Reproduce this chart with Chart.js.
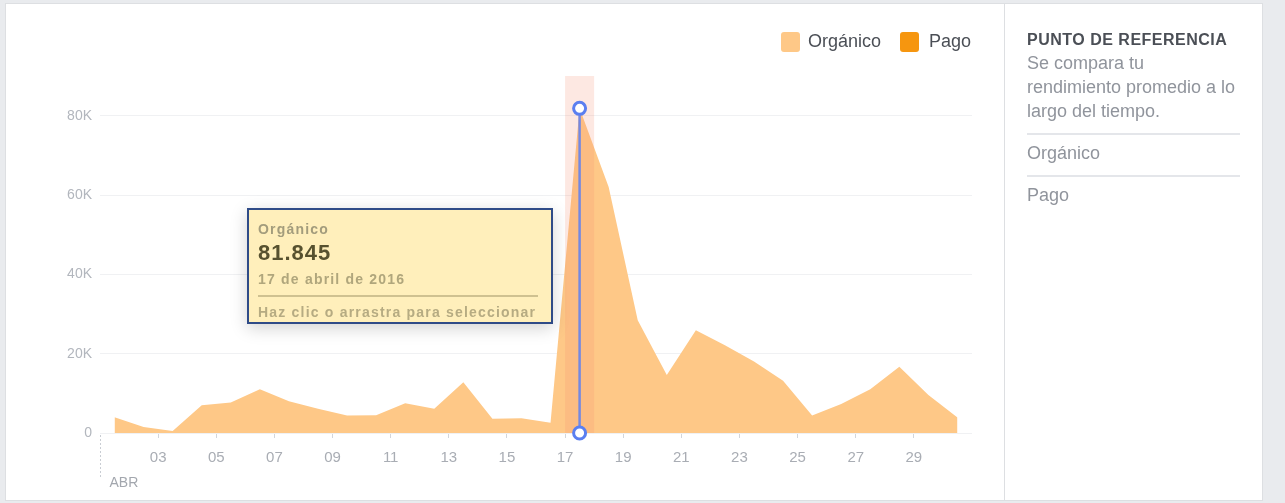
<!DOCTYPE html>
<html lang="es">
<head>
<meta charset="utf-8">
<title>Alcance de la página</title>
<script src="https://cdn.jsdelivr.net/npm/chart.js@4.4.1/dist/chart.umd.min.js"></script>
<style>
  html, body { margin: 0; padding: 0; }
  body {
    width: 1285px; height: 503px; overflow: hidden; position: relative;
    background: #e9ebee;
    font-family: Helvetica, Arial, "Liberation Sans", sans-serif;
  }
  .card { position: absolute; left: 5px; top: 3px; width: 1256px; height: 496px; background: #fff; border: 1px solid #dddfe2; }
  .divider { position: absolute; left: 1004px; top: 4px; width: 1px; height: 496px; background: #dddfe2; }
  #chart { position: absolute; left: 0; top: 0; }

  .legend-sw { position: absolute; top: 32px; width: 19px; height: 20px; border-radius: 3px; }
  .legend-txt { position: absolute; top: 31px; font-size: 18px; line-height: 20px; color: #4b4f56; }

  .side { position: absolute; left: 1027px; color: #90949c; }
  .side-title { top: 30px; font-size: 16px; line-height: 20px; font-weight: bold; color: #4b4f56; letter-spacing: 0.5px; }
  .side-desc { top: 51px; font-size: 18px; line-height: 24px; }
  .side-item { font-size: 18px; line-height: 20px; }
  .side-rule { position: absolute; left: 1027px; width: 213px; height: 2px; background: #e4e6ea; }

  .tip {
    position: absolute; left: 247px; top: 208px; width: 306px; height: 116px; box-sizing: border-box;
    background: #ffefbb; border: 2px solid #2f4b87;
    box-shadow: 0 4px 16px rgba(0, 0, 0, 0.18);
    font-weight: bold; font-size: 14px; letter-spacing: 1.2px;
  }
  .tip div { position: absolute; left: 9px; white-space: nowrap; line-height: 18px; }
  .tip .t-name { top: 10px; color: #a39c7c; }
  .tip .t-value { top: 30px; font-size: 22px; line-height: 26px; letter-spacing: 1px; color: #57512f; }
  .tip .t-date { top: 60px; color: #b0a67c; }
  .tip .t-rule { top: 85px; width: 280px; height: 2px; background: #cfc190; }
  .tip .t-help { top: 93px; color: #b6ab82; }
</style>
</head>
<body>
<div class="card"></div>
<div class="divider"></div>
<canvas id="chart" width="1004" height="503"></canvas>

<div class="legend-sw" id="swOrg" style="left:781px"></div>
<div class="legend-txt" style="left:808px">Orgánico</div>
<div class="legend-sw" id="swPago" style="left:900px"></div>
<div class="legend-txt" style="left:929px">Pago</div>

<div class="side side-title">PUNTO DE REFERENCIA</div>
<div class="side side-desc">Se compara tu<br>rendimiento promedio a lo<br>largo del tiempo.</div>
<div class="side-rule" style="top:133px"></div>
<div class="side side-item" style="top:143px">Orgánico</div>
<div class="side-rule" style="top:175px"></div>
<div class="side side-item" style="top:185px">Pago</div>

<div class="tip">
  <div class="t-name" id="tipName"></div>
  <div class="t-value" id="tipValue"></div>
  <div class="t-date" id="tipDate"></div>
  <div class="t-rule"></div>
  <div class="t-help">Haz clic o arrastra para seleccionar</div>
</div>

<script>
// dias de abril 2016
const days = [1, 2, 3, 4, 5, 6, 7, 8, 9, 10, 11, 12, 13, 14, 15, 16, 17, 18, 19, 20, 21, 22, 23, 24, 25, 26, 27, 28, 29, 30];
const organico = [4000, 1500, 500, 7000, 7700, 11000, 8000, 6100, 4400, 4500, 7500, 6100, 12800, 3600, 3700, 2600,
                  81845, 62000, 28400, 14600, 25900, 22100, 18000, 13200, 4400, 7300, 11000, 16700, 9600, 3900];
const pago = [0, 0, 0, 0, 0, 0, 0, 0, 0, 0, 0, 0, 0, 0, 0, 0, 0, 0, 0, 0, 0, 0, 0, 0, 0, 0, 0, 0, 0, 0];

const yTicks = [0, 20000, 40000, 60000, 80000];
const yTickLabels = ['0', '20K', '40K', '60K', '80K'];
const xTicks = [3, 5, 7, 9, 11, 13, 15, 17, 19, 21, 23, 25, 27, 29];
const xTickLabels = ['03', '05', '07', '09', '11', '13', '15', '17', '19', '21', '23', '25', '27', '29'];
const monthLabel = 'ABR';
const monthName = 'abril';
const year = 2016;
const selectedDay = 17;

const colorOrg = '#fec887';
const colorPago = '#f6960f';
const fontFamily = 'Helvetica, Arial, "Liberation Sans", sans-serif';

document.getElementById('swOrg').style.background = colorOrg;
document.getElementById('swPago').style.background = colorPago;

// tooltip fijo del dia seleccionado
const selIdx = days.indexOf(selectedDay);
document.getElementById('tipName').textContent = 'Orgánico';
document.getElementById('tipValue').textContent = organico[selIdx].toLocaleString('de-DE');
document.getElementById('tipDate').textContent = `${selectedDay} de ${monthName} de ${year}`;

// cada dia ocupa [d, d+1] en el eje, el punto va al centro
const toPoints = (vals) => days.map((d, i) => ({ x: d + 0.5, y: vals[i] }));

const highlightDay = {
    id: 'highlightDay',
    afterDatasetsDraw(chart) {
        const { ctx, chartArea, scales: { x, y } } = chart;
        const left = x.getPixelForValue(selectedDay);
        const right = x.getPixelForValue(selectedDay + 1);
        ctx.save();
        ctx.fillStyle = 'rgba(245, 140, 110, 0.2)';
        ctx.fillRect(left, chartArea.top, right - left, chartArea.bottom - chartArea.top);

        const cx = x.getPixelForValue(selectedDay + 0.5);
        const top = y.getPixelForValue(organico[selIdx]);
        const base = y.getPixelForValue(0);
        ctx.strokeStyle = '#7488e2';
        ctx.lineWidth = 2.5;
        ctx.beginPath();
        ctx.moveTo(cx, top);
        ctx.lineTo(cx, base);
        ctx.stroke();

        [top, base].forEach(cy => {
            ctx.beginPath();
            ctx.arc(cx, cy, 6, 0, Math.PI * 2);
            ctx.fillStyle = '#fff';
            ctx.fill();
            ctx.strokeStyle = '#5b7ff0';
            ctx.lineWidth = 3;
            ctx.stroke();
        });
        ctx.restore();
    }
};

// marca punteada del inicio del mes
const monthMarker = {
    id: 'monthMarker',
    afterDraw(chart) {
        const { ctx, scales: { x, y } } = chart;
        const x0 = Math.round(x.getPixelForValue(days[0])) + 0.5;
        const base = y.getPixelForValue(0);
        ctx.save();
        ctx.strokeStyle = '#c9cdd3';
        ctx.lineWidth = 1;
        ctx.setLineDash([2, 2]);
        ctx.beginPath();
        ctx.moveTo(x0, base + 2);
        ctx.lineTo(x0, base + 45);
        ctx.stroke();
        ctx.setLineDash([]);
        ctx.fillStyle = '#a3a7ae';
        ctx.font = '14px ' + fontFamily;
        ctx.textBaseline = 'middle';
        ctx.fillText(monthLabel, x0 + 9, base + 50);
        ctx.restore();
    }
};

new Chart(document.getElementById('chart'), {
    type: 'line',
    data: {
        datasets: [{
            label: 'Orgánico',
            data: toPoints(organico),
            backgroundColor: colorOrg,
            borderWidth: 0,
            pointRadius: 0,
            fill: 'origin',
            tension: 0
        }, {
            label: 'Pago',
            data: toPoints(pago),
            backgroundColor: colorPago,
            borderWidth: 0,
            pointRadius: 0,
            fill: 'origin',
            tension: 0
        }]
    },
    options: {
        responsive: false,
        animation: false,
        events: [],
        layout: { padding: { top: 76, right: 32, left: 0, bottom: 0 } },
        plugins: {
            legend: { display: false },
            tooltip: { enabled: false }
        },
        scales: {
            x: {
                type: 'linear',
                min: 1,
                max: 31,
                afterBuildTicks: (scale) => { scale.ticks = xTicks.map(v => ({ value: v })); },
                afterFit: (scale) => { scale.height = 70; },
                border: { display: false },
                grid: { drawOnChartArea: false, drawTicks: true, tickLength: 5, color: '#d3d6db' },
                ticks: {
                    autoSkip: false,
                    maxRotation: 0,
                    padding: 11,
                    color: '#a9adb4',
                    font: { family: fontFamily, size: 15 },
                    callback: (v) => xTickLabels[xTicks.indexOf(v)]
                }
            },
            y: {
                min: 0,
                max: 90000,
                afterBuildTicks: (scale) => { scale.ticks = yTicks.map(v => ({ value: v })); },
                afterFit: (scale) => { scale.width = 100; },
                border: { display: false },
                grid: { drawTicks: false, color: '#f0f1f3' },
                ticks: {
                    padding: 8,
                    color: '#b2b6bd',
                    font: { family: fontFamily, size: 14 },
                    callback: (v) => yTickLabels[yTicks.indexOf(v)]
                }
            }
        }
    },
    plugins: [highlightDay, monthMarker]
});
</script>
</body>
</html>
